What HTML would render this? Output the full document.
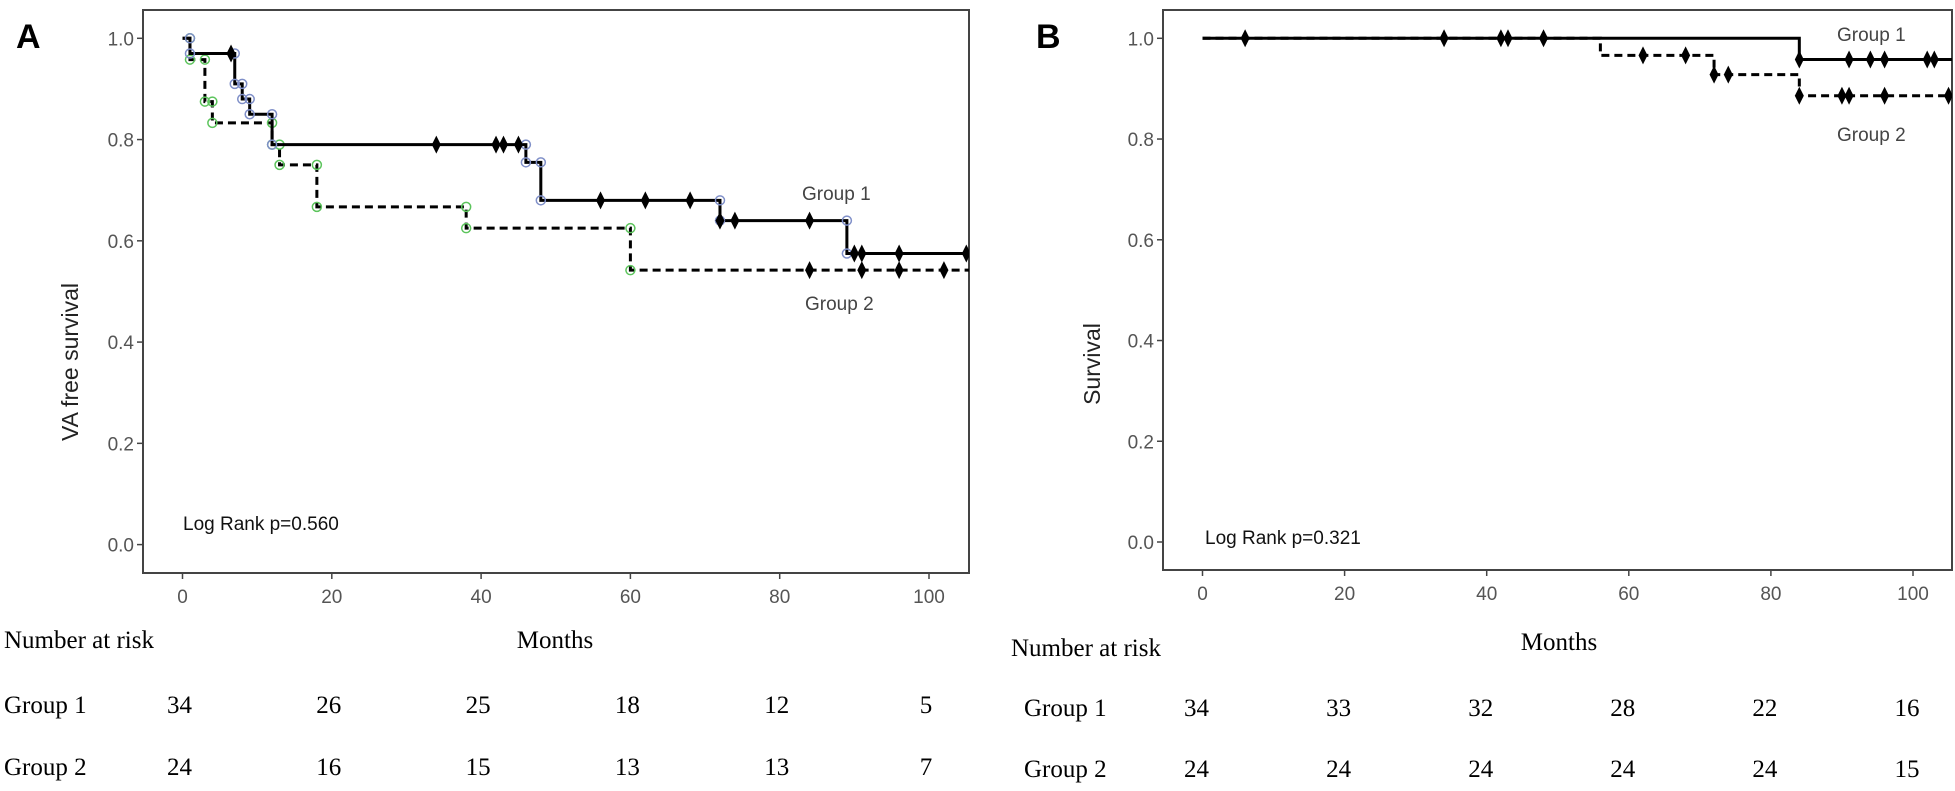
<!DOCTYPE html>
<html><head><meta charset="utf-8"><style>
html,body{margin:0;padding:0;background:#fff;}
svg{display:block;}
.tick{font-family:"Liberation Sans",sans-serif;font-size:19px;fill:#555;}
.ser{font-family:"Liberation Serif",serif;font-size:25px;fill:#000;}
.lab{font-family:"Liberation Sans",sans-serif;font-size:19px;fill:#444;}
</style></head><body>
<svg id="chart" width="1955" height="791" viewBox="0 0 1955 791" xmlns="http://www.w3.org/2000/svg">
<defs>
<clipPath id="clipA"><rect x="143" y="10" width="826" height="563"/></clipPath>
<clipPath id="clipB"><rect x="1163" y="10" width="789" height="560"/></clipPath>
</defs>
</svg>
<script>
// Panel A data
const aG1Times=[0,1,7,8,9,12,46,48,72,89];
const aG1Surv=[1.0,0.97,0.91,0.88,0.85,0.79,0.755,0.68,0.64,0.575];
const aG1Cens=[6.5,34,42,43,45,56,62,68,72,74,84,90,91,96,105];
const aG2Times=[0,1,3,4,12,13,18,38,60];
const aG2Surv=[1.0,0.958,0.875,0.833,0.79,0.75,0.667,0.625,0.542];
const aG2Cens=[84,91,96,102];
// Panel B data
const bG1Times=[0,84];
const bG1Surv=[1.0,0.958];
const bG1Cens=[6,34,42,43,48,84,91,94,96,102,103];
const bG2Times=[0,56,72,84];
const bG2Surv=[1.0,0.966,0.928,0.886];
const bG2Cens=[62,68,72,74,84,90,91,96,105];
// Axis ticks
const xTicks=[0,20,40,60,80,100];
const yTicks=[0.0,0.2,0.4,0.6,0.8,1.0];
const yTickLabels=["0.0","0.2","0.4","0.6","0.8","1.0"];
// Number at risk
const aRiskG1=[34,26,25,18,12,5];
const aRiskG2=[24,16,15,13,13,7];
const bRiskG1=[34,33,32,28,22,16];
const bRiskG2=[24,24,24,24,24,15];

const NS="http://www.w3.org/2000/svg";
const svg=document.getElementById('chart');
function mk(tag,attrs,parent,text){const e=document.createElementNS(NS,tag);for(const k in attrs)e.setAttribute(k,attrs[k]);if(text!==undefined)e.textContent=text;(parent||svg).appendChild(e);return e;}

function panel(cfg){
  const g=mk('g',{});
  
  
  const X=t=>cfg.x0+(cfg.x100-cfg.x0)*t/100;
  const Y=s=>cfg.y0+(cfg.y1-cfg.y0)*s;
  const fr=mk('rect',{x:cfg.fl,y:cfg.ft,width:cfg.fr-cfg.fl,height:cfg.fb-cfg.ft,fill:'none',stroke:'#444','stroke-width':2},g);
  
  
  yTicks.forEach((v,i)=>{
    mk('line',{x1:cfg.fl-6,x2:cfg.fl,y1:Y(v),y2:Y(v),stroke:'#444','stroke-width':1.5},g);
    const t=mk('text',{x:cfg.fl-9,y:Y(v)+7,'text-anchor':'end',class:'tick'},g,yTickLabels[i]);
    
    
  });
  xTicks.forEach(v=>{
    mk('line',{x1:X(v),x2:X(v),y1:cfg.fb,y2:cfg.fb+6,stroke:'#444','stroke-width':1.5},g);
    const t=mk('text',{x:X(v),y:cfg.fb+30,'text-anchor':'middle',class:'tick'},g,String(v));
    
    
  });
  const yt=mk('text',{x:0,y:0,transform:`translate(${cfg.ytx},${cfg.yty}) rotate(-90)`,'text-anchor':'middle',style:'font-family:"Liberation Sans",sans-serif;font-size:23px;fill:#222'},g,cfg.ytitle);
  
  
  const cg=mk('g',{'clip-path':`url(#${cfg.clip})`},g);
  function series(times,surv,cens,dashed,circ,name){
    let d=`M${X(times[0])},${Y(surv[0])}`;
    for(let i=1;i<times.length;i++){d+=` H${X(times[i])} V${Y(surv[i])}`;}
    d+=` H${X(110)}`;
    const p=mk('path',{d:d,fill:'none',stroke:'#000','stroke-width':3,'stroke-dasharray':dashed?'8,5':'none'},cg);
    
    
    if(circ){
      for(let i=1;i<times.length;i++){
        [surv[i-1],surv[i]].forEach(s=>{
          const c=mk('circle',{cx:X(times[i]),cy:Y(s),r:4.5,fill:'none',stroke:circ,'stroke-width':1.5},cg);
          
          
        });
      }
    }
    cens.forEach(t=>{
      let s=surv[0];for(let i=0;i<times.length;i++)if(times[i]<=t)s=surv[i];
      const cx=X(t),cy=Y(s);
      const m=mk('path',{d:`M${cx},${cy-9} L${cx+4.5},${cy} L${cx},${cy+9} L${cx-4.5},${cy} Z`,fill:'#000'},cg);
      
      
    });
  }
  series(cfg.g2t,cfg.g2s,cfg.g2c,true,cfg.c2,'group2');
  series(cfg.g1t,cfg.g1s,cfg.g1c,false,cfg.c1,'group1');
  const l1=mk('text',{x:cfg.l1x,y:cfg.l1y,class:'lab'},g,'Group 1');
  
  
  const l2=mk('text',{x:cfg.l2x,y:cfg.l2y,class:'lab'},g,'Group 2');
  
  
  const lr=mk('text',{x:cfg.lrx,y:cfg.lry,class:'lab',style:'fill:#111'},g,cfg.lr);
  
  
  const pl=mk('text',{x:cfg.plx,y:48,style:'font-family:"Liberation Sans",sans-serif;font-size:34px;font-weight:bold;fill:#000'},g,cfg.letter);
  
  
  const n=mk('text',{x:cfg.nrx,y:cfg.nry,class:'ser'},g,'Number at risk');
  
  
  const mo=mk('text',{x:cfg.mox,y:cfg.moy,'text-anchor':'middle',class:'ser'},g,'Months');
  
  
  [[cfg.r1,'Group 1',cfg.r1y],[cfg.r2,'Group 2',cfg.r2y]].forEach(([arr,lbl,yy])=>{
    const rl=mk('text',{x:cfg.rlx,y:yy,class:'ser'},g,lbl);
    
    
    arr.forEach((v,i)=>{
      const rt=mk('text',{x:X(xTicks[i])+cfg.rdx,y:yy,'text-anchor':'middle',class:'ser'},g,String(v));
      
      
    });
  });
}
panel({id:'a',x0:182.5,x100:929,y0:544.6,y1:38.3,fl:143,fr:969,ft:10,fb:573,clip:'clipA',
  ytitle:'VA free survival',ytx:78,yty:362,
  g1t:aG1Times,g1s:aG1Surv,g1c:aG1Cens,g2t:aG2Times,g2s:aG2Surv,g2c:aG2Cens,c1:'#7f8fc8',c2:'#5cc45c',
  l1x:802,l1y:200,l2x:805,l2y:310,lrx:183,lry:530,lr:'Log Rank p=0.560',plx:16,letter:'A',
  nrx:4,nry:648,mox:555,moy:648,rlx:4,r1:aRiskG1,r2:aRiskG2,r1y:713,r2y:775,rdx:-3});
panel({id:'b',x0:1202.5,x100:1913,y0:542,y1:38.3,fl:1163,fr:1952,ft:10,fb:570,clip:'clipB',
  ytitle:'Survival',ytx:1100,yty:364,
  g1t:bG1Times,g1s:bG1Surv,g1c:bG1Cens,g2t:bG2Times,g2s:bG2Surv,g2c:bG2Cens,c1:null,c2:null,
  l1x:1837,l1y:41,l2x:1837,l2y:141,lrx:1205,lry:544,lr:'Log Rank p=0.321',plx:1036,letter:'B',
  nrx:1011,nry:656,mox:1559,moy:650,rlx:1024,r1:bRiskG1,r2:bRiskG2,r1y:716,r2y:777,rdx:-6});
</script>
</body></html>
